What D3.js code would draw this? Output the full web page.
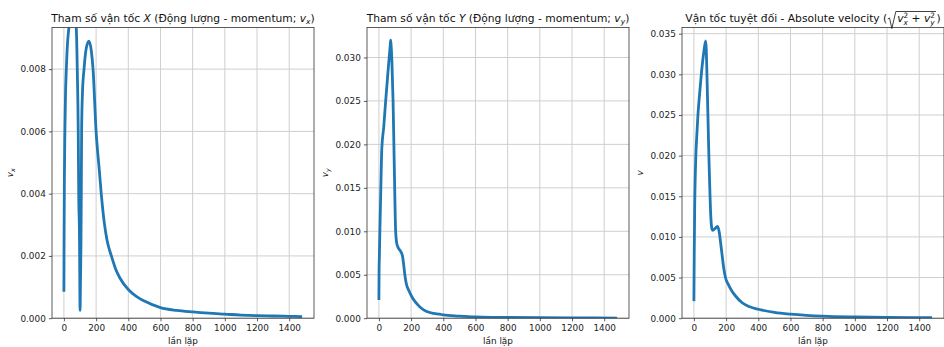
<!DOCTYPE html>
<html>
<head>
<meta charset="utf-8">
<script src="https://cdn.jsdelivr.net/npm/d3@7"></script>
<style>
body { margin: 0; background: #fff; }
text { font-family: "DejaVu Sans", sans-serif; }
</style>
</head>
<body>
<div id="chart"></div>
<script>
// x iteration values and readings for each panel
var vxIter = [0,1,3,6,10,15,22,31,40,50,60,70,77,83,89,92,97,99,100.5,103,106,108,110,115,125,140,156,170,181,200,220,232,250,268,295,320,347,400,450,500,600,700,800,900,1000,1100,1200,1300,1400,1480];
var vxVal  = [0.00085,0.0025,0.0045,0.006,0.0072,0.008,0.0088,0.00934,0.0098,0.0100,0.0099,0.0096,0.0093,0.008,0.006,0.004,0.0025,0.001,0.00025,0.0012,0.0024,0.004,0.006,0.0072,0.008,0.0087,0.0089,0.0086,0.008,0.006,0.00475,0.004,0.0031,0.0025,0.002,0.0016,0.0013,0.00092,0.0007,0.00055,0.00034,0.00025,0.0002,0.00016,0.00013,0.0001,0.00008,0.00007,0.00006,0.00005];

var vyIter = [0,1,3,6,12,18,30,42,55,63,70,73,76,80,88,96,104,110,120,135,147,155,161,170,188,210,234,260,297,340,378,400,500,600,700,800,1000,1200,1480];
var vyVal  = [0.0021,0.0055,0.0072,0.010,0.015,0.0195,0.022,0.025,0.028,0.0298,0.0313,0.032,0.0313,0.030,0.025,0.017,0.010,0.0087,0.0081,0.0077,0.0071,0.006,0.005,0.004,0.0031,0.0023,0.0017,0.0012,0.00076,0.00056,0.00046,0.00038,0.00025,0.00015,0.0001,0.00008,0.00005,0.00003,0.00002];

var vIter = [0,2,5,9,12,18,25,35,46,60,73,77,81,87,93,98,105,112,118,130,148,158,164,175,185,196,215,233,260,300,347,400,500,600,700,800,1000,1200,1480];
var vVal  = [0.0021,0.008,0.014,0.018,0.020,0.0225,0.025,0.0275,0.030,0.0325,0.0341,0.033,0.030,0.025,0.020,0.0165,0.0125,0.011,0.0108,0.0110,0.0113,0.0105,0.0096,0.0078,0.0062,0.005,0.0041,0.00345,0.0027,0.0019,0.0014,0.0011,0.00072,0.0005,0.00035,0.00025,0.00015,0.0001,0.00006];

var xTicks = [0,200,400,600,800,1000,1200,1400];
var vxTicks = [0,0.002,0.004,0.006,0.008];
var vyTicks = [0,0.005,0.010,0.015,0.020,0.025,0.030];
var vTicks  = [0,0.005,0.010,0.015,0.020,0.025,0.030,0.035];

var svg = d3.select("#chart").append("svg")
	.attr("width", 944)
	.attr("height", 347);

var top0 = 27.5, bottom0 = 318.2, axW = 262;
var fs = 8.9, titleFs = 10.7;

var panels = [
	{ left: 52,  iter: vxIter, val: vxVal, ticks: vxTicks, yMax: 0.009337, sub: "x",
	  title: [{t:"Tham số vận tốc "},{t:"X",it:1},{t:" (Động lượng - momentum; "},{t:"v",it:1},{t:"x",it:1,sz:7.5,dy:2.2},{t:")"}] },
	{ left: 367, iter: vyIter, val: vyVal, ticks: vyTicks, yMax: 0.03345, sub: "y",
	  title: [{t:"Tham số vận tốc "},{t:"Y",it:1},{t:" (Động lượng - momentum; "},{t:"v",it:1},{t:"y",it:1,sz:7.5,dy:2.2},{t:")"}] },
	{ left: 682, iter: vIter, val: vVal, ticks: vTicks, yMax: 0.03576, sub: "",
	  title: [{t:"Vận tốc tuyệt đối - Absolute velocity ("},{rad:1,w:10},{t:"v",it:1},{t:"2",sz:7.3,dy:-4},{t:"x",it:1,sz:7.3,dy:2.7,stack:1},
	          {t:" + "},{t:"v",it:1},{t:"2",sz:7.3,dy:-4},{t:"y",it:1,sz:7.3,dy:2.7,stack:1},{rad:2},{t:")"}] }
];

// rich text: pieces placed one after another, "stack" pieces share x with the previous one
// (a stacked piece goes into the previous text element as a tspan)
function richText(g, pieces, size) {
	var x = 0, lastStart = 0, radStart = 0, radEnd = 0, lastText = null;
	pieces.forEach(function(p) {
		if (p.rad === 1) { radStart = x; x += p.w; lastStart = x; return; }
		if (p.rad === 2) { radEnd = x + 1; x += 1.5; lastStart = x; return; }
		var el;
		if (p.stack && lastText) {
			el = lastText.append("tspan")
				.attr("x", lastStart)
				.attr("y", p.dy || 0);
		} else {
			lastText = g.append("text").style("white-space", "pre");
			el = lastText.append("tspan")
				.attr("x", x)
				.attr("y", p.dy || 0);
			lastStart = x;
		}
		el.style("font-size", (p.sz || size) + "px")
			.style("font-style", p.it ? "italic" : "normal")
			.style("fill", "#111")
			.text(p.t);
		var w = el.node().getComputedTextLength();
		x = p.stack ? Math.max(x, lastStart + w) : lastStart + w;
	});
	if (radEnd > 0) {
		g.append("path")
			.attr("d", "M" + (radStart + 0.5) + ",-3" +
				"L" + (radStart + 2.3) + ",-4" +
				"L" + (radStart + 4.6) + ",6.5" +
				"L" + (radStart + 8.6) + ",-10.5" +
				"L" + radEnd + ",-10.5")
			.attr("fill", "none")
			.attr("stroke", "#111")
			.attr("stroke-width", 0.8);
	}
	return x;
}

panels.forEach(function(p, i) {
	var x = d3.scaleLinear().domain([-74, 1554]).range([p.left, p.left + axW]);
	var y = d3.scaleLinear().domain([0, p.yMax]).range([bottom0, top0]);
	var g = svg.append("g");

	// grid
	g.selectAll(".gx").data(xTicks).enter().append("line")
		.attr("x1", function(d) { return x(d); }).attr("x2", function(d) { return x(d); })
		.attr("y1", top0).attr("y2", bottom0)
		.attr("stroke", "#cfcfcf").attr("stroke-width", 1);
	g.selectAll(".gy").data(p.ticks).enter().append("line")
		.attr("x1", p.left).attr("x2", p.left + axW)
		.attr("y1", function(d) { return y(d); }).attr("y2", function(d) { return y(d); })
		.attr("stroke", "#cfcfcf").attr("stroke-width", 1);

	// line
	var clipId = "clip" + i;
	svg.append("clipPath").attr("id", clipId).append("rect")
		.attr("x", p.left).attr("y", top0).attr("width", axW).attr("height", bottom0 - top0);
	var pts = p.iter.map(function(d, k) { return [d, p.val[k]]; });
	g.append("path")
		.datum(pts)
		.attr("clip-path", "url(#" + clipId + ")")
		.attr("fill", "none")
		.attr("stroke", "#1f77b4")
		.attr("stroke-width", 2.8)
		.attr("stroke-linejoin", "round")
		.attr("d", d3.line().curve(d3.curveMonotoneX)
			.x(function(d) { return x(d[0]); })
			.y(function(d) { return y(d[1]); }));

	// axes
	var xa = g.append("g")
		.attr("transform", "translate(0," + bottom0 + ")")
		.call(d3.axisBottom(x).tickValues(xTicks).tickSize(3.1).tickPadding(3.1).tickFormat(d3.format("d")));
	var ya = g.append("g")
		.attr("transform", "translate(" + p.left + ",0)")
		.call(d3.axisLeft(y).tickValues(p.ticks).tickSize(3.1).tickPadding(3.1).tickFormat(d3.format(".3f")));
	[xa, ya].forEach(function(a) {
		a.select(".domain").remove();
		a.selectAll("line").attr("stroke", "#333").attr("stroke-width", 0.8);
		a.selectAll("text").style("font-size", fs + "px").style("font-family", "DejaVu Sans").attr("fill", "#222");
	});

	// spines
	g.append("rect")
		.attr("x", p.left).attr("y", top0)
		.attr("width", axW).attr("height", bottom0 - top0)
		.attr("fill", "none").attr("stroke", "#333").attr("stroke-width", 0.8);

	// x label
	g.append("text")
		.attr("x", p.left + axW / 2).attr("y", 343.5)
		.attr("text-anchor", "middle")
		.style("font-size", fs + "px").style("fill", "#111")
		.text("lần lặp");

	// y label
	var yl = g.append("text")
		.attr("transform", "translate(" + (p.left - 39) + "," + ((top0 + bottom0) / 2) + ") rotate(-90)")
		.attr("text-anchor", "middle")
		.style("font-size", fs + "px").style("fill", "#111");
	yl.append("tspan").style("font-style", "italic").text("v");
	if (p.sub) {
		yl.append("tspan").style("font-style", "italic").style("font-size", "6.3px").attr("dy", 2).text(p.sub);
	}

	// title
	var tg = g.append("g");
	var w = richText(tg, p.title, titleFs);
	tg.attr("transform", "translate(" + (p.left + axW / 2 - w / 2) + "," + (top0 - 5.5) + ")");
});
</script>
</body>
</html>
